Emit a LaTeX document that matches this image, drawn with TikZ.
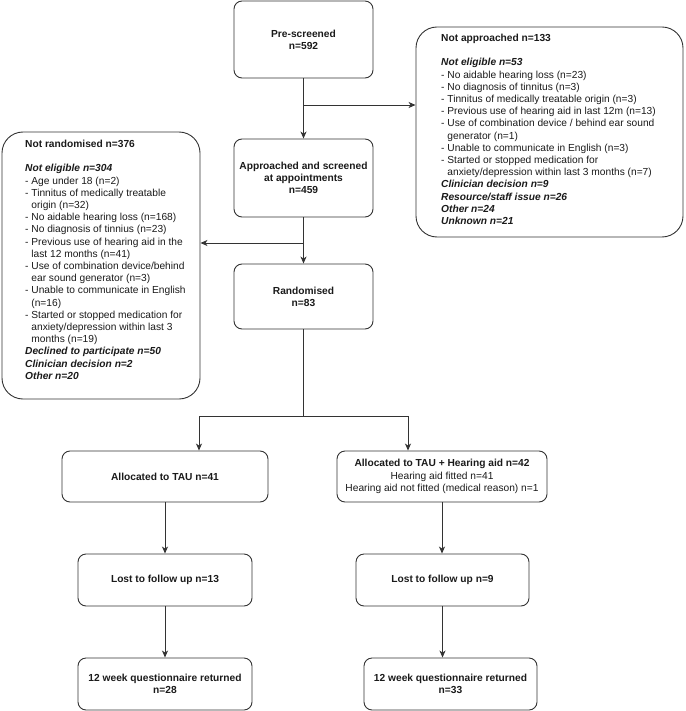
\documentclass[tikz,border=0pt]{standalone}
\usepackage{fontspec}
\setmainfont{Liberation Sans}
\usetikzlibrary{arrows.meta}
\definecolor{lncol}{HTML}{333333}
\definecolor{txcol}{HTML}{1A1A1A}
\newcommand{\cnt}{\hphantom{-}\ }
\newcommand{\bi}[1]{\textbf{\textit{#1}}}
\begin{document}
\begin{tikzpicture}[x=1pt,y=-1pt,
  every node/.style={font=\fontsize{10.2}{12.2}\selectfont, text=txcol},
  box/.style={draw=lncol, line width=0.9pt, rounded corners=8pt, align=center, inner sep=2pt},
  bigbox/.style={draw=lncol, line width=0.9pt, rounded corners=21pt, inner sep=0pt},
  txt/.style={anchor=north west, align=left, inner sep=0pt},
  arr/.style={draw=lncol, line width=0.9pt, -{Stealth[length=7pt,width=6pt,inset=2pt]}},
  conn/.style={draw=lncol, line width=0.9pt}]
\useasboundingbox (0,0) rectangle (685,711);

% main column
\node[box, minimum width=139pt, minimum height=77pt] (pre) at (303.5,39.5) {\textbf{Pre-screened}\\\textbf{n=592}};
\node[box, minimum width=139pt, minimum height=78pt] (appr) at (303.5,178) {\textbf{Approached and screened}\\\textbf{at appointments}\\\textbf{n=459}};
\node[box, minimum width=139pt, minimum height=65pt] (rand) at (303.5,296.5) {\textbf{Randomised}\\\textbf{n=83}};

% side boxes
\node[bigbox, minimum width=267pt, minimum height=210pt] (na) at (549.5,132) {};
\node[txt] (nat) at (441,34) {\textbf{Not approached n=133}\\[12.2pt]
\bi{Not eligible n=53}\\
- No aidable hearing loss (n=23)\\
- No diagnosis of tinnitus (n=3)\\
- Tinnitus of medically treatable origin (n=3)\\
- Previous use of hearing aid in last 12m (n=13)\\
- Use of combination device / behind ear sound\\
\cnt generator (n=1)\\
- Unable to communicate in English (n=3)\\
- Started or stopped medication for\\
\cnt anxiety/depression within last 3 months (n=7)\\
\bi{Clinician decision n=9}\\
\bi{Resource/staff issue n=26}\\
\bi{Other n=24}\\
\bi{Unknown n=21}};

\node[bigbox, minimum width=198pt, minimum height=267pt] (nr) at (101,265.5) {};
\node[txt] (nrt) at (25,140) {\textbf{Not randomised n=376}\\[12.2pt]
\bi{Not eligible n=304}\\
- Age under 18 (n=2)\\
- Tinnitus of medically treatable\\
\cnt origin (n=32)\\
- No aidable hearing loss (n=168)\\
- No diagnosis of tinnius (n=23)\\
- Previous use of hearing aid in the\\
\cnt last 12 months (n=41)\\
- Use of combination device/behind\\
\cnt ear sound generator (n=3)\\
- Unable to communicate in English\\
\cnt (n=16)\\
- Started or stopped medication for\\
\cnt anxiety/depression within last 3\\
\cnt months (n=19)\\
\bi{Declined to participate n=50}\\
\bi{Clinician decision n=2}\\
\bi{Other n=20}};

% arms
\node[box, minimum width=206pt, minimum height=51pt] (tau) at (165,476.5) {\textbf{Allocated to TAU n=41}};
\node[box, minimum width=210pt, minimum height=51pt] (tauha) at (442,476.5) {\textbf{Allocated to TAU + Hearing aid n=42}\\Hearing aid fitted n=41\\Hearing aid not fitted (medical reason) n=1};
\node[box, minimum width=174pt, minimum height=52pt] (lost1) at (165,580) {\textbf{Lost to follow up n=13}};
\node[box, minimum width=173pt, minimum height=52pt] (lost2) at (442.5,580) {\textbf{Lost to follow up n=9}};
\node[box, minimum width=174pt, minimum height=52pt] (wk1) at (165,684) {\textbf{12 week questionnaire returned}\\\textbf{n=28}};
\node[box, minimum width=173pt, minimum height=52pt] (wk2) at (450.5,684) {\textbf{12 week questionnaire returned}\\\textbf{n=33}};

% connectors
\coordinate (b1) at (303.5,105);
\coordinate (b2) at (303.5,243);
\coordinate (s) at (303.5,416);
\coordinate (sl) at (199,416);
\coordinate (sr) at (408,416);

\draw[arr] (pre.south) -- (appr.north);
\draw[arr] (b1) -- (b1 -| na.west);
\draw[arr] (appr.south) -- (rand.north);
\draw[arr] (b2) -- (b2 -| nr.east);
\draw[conn] (rand.south) -- (s);
\draw[arr] (s) -- (sl) -- (sl |- tau.north);
\draw[arr] (s) -- (sr) -- (sr |- tauha.north);
\draw[arr] (tau.south) -- (lost1.north);
\draw[arr] (lost1.south) -- (wk1.north);
\draw[arr] (tauha.south) -- (tauha.south |- lost2.north);
\draw[arr] (lost2.south) -- (lost2.south |- wk2.north);
\end{tikzpicture}
\end{document}
